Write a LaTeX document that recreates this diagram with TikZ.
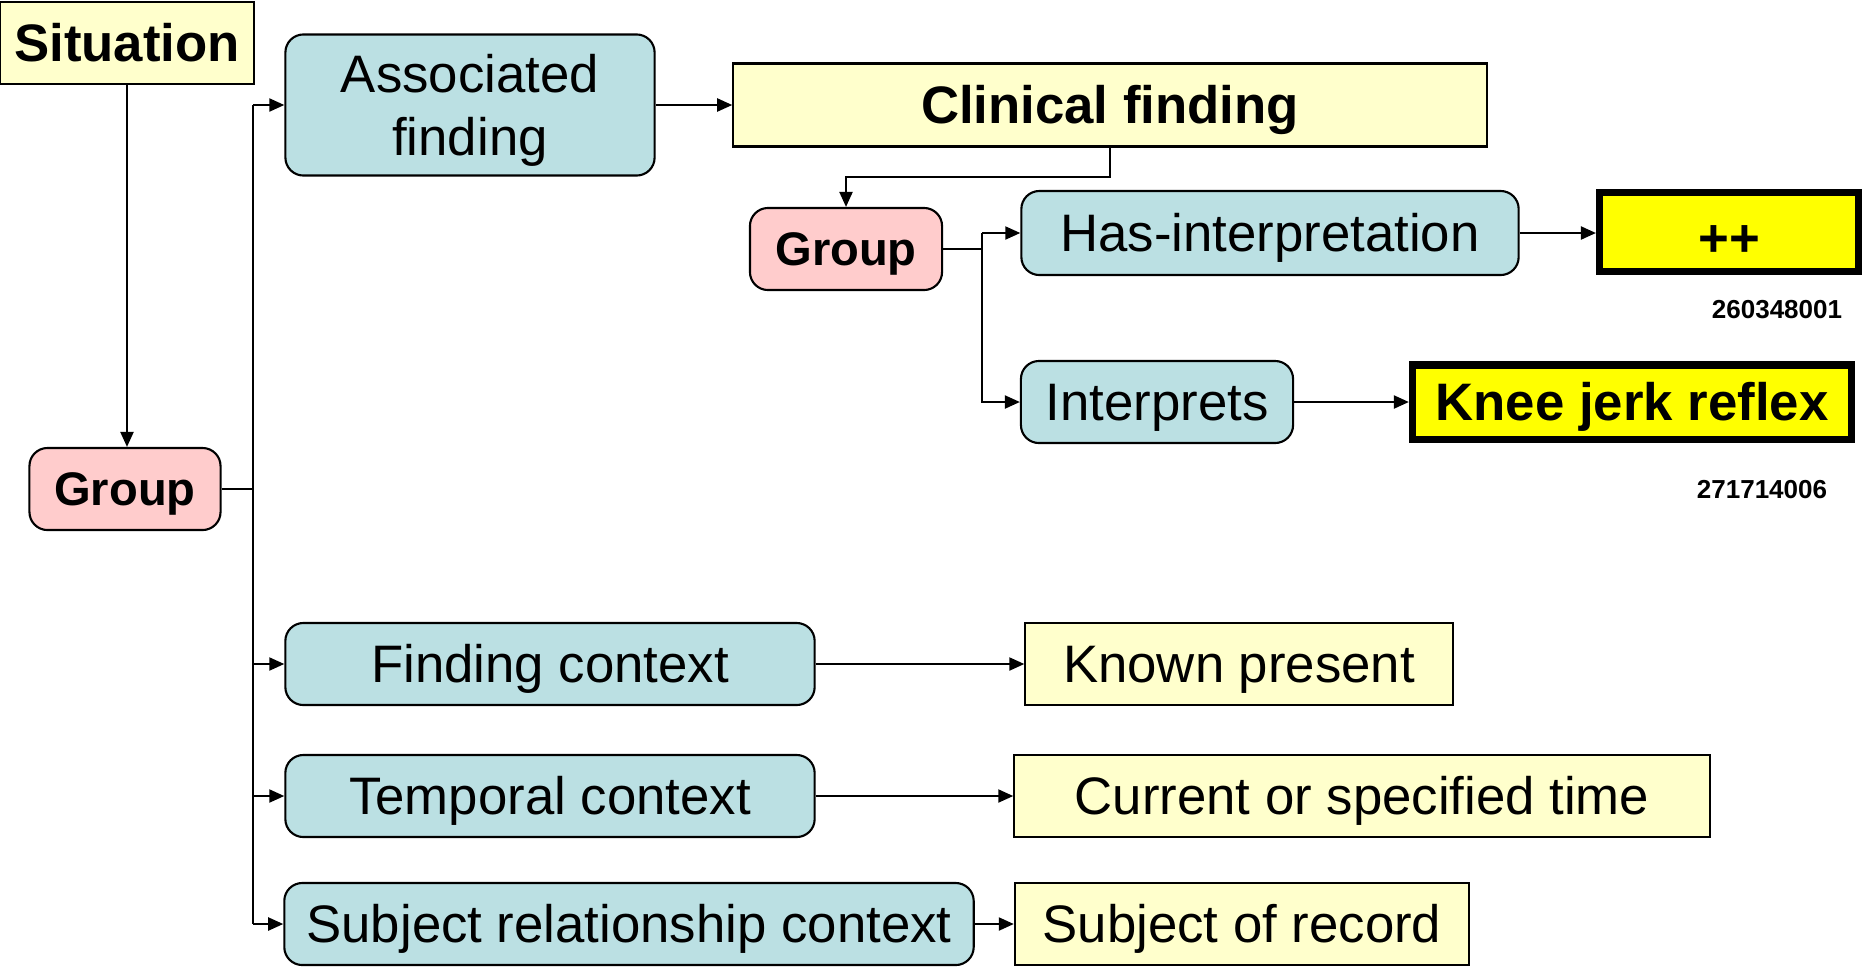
\documentclass[tikz,border=0pt]{standalone}
\usepackage{fontspec}
\setmainfont{Liberation Sans}
\usetikzlibrary{arrows.meta}
\newcommand\boxstrut{\rule[-0.212em]{0pt}{1.117em}}
\newcommand\topstrut[1]{\rule{0pt}{#1em}}

\begin{document}
\begin{tikzpicture}[x=0.01cm,y=-0.01cm,font=\fontsize{15pt}{18pt}\selectfont,
  box/.style={draw,line width=0.6pt,inner sep=0pt,align=center,minimum height=0.82cm,
    execute at begin node=\boxstrut,execute at end node=\boxstrut},
  attr/.style={box,rounded corners=0.18cm,fill=attrblue},
  grp/.style={box,rounded corners=0.18cm,fill=grppink,font=\fontsize{13.4pt}{16pt}\selectfont\bfseries},
  val/.style={box,fill=valyellow},
  hot/.style={box,fill=hotyellow,line width=2pt,font=\fontsize{15pt}{18pt}\selectfont\bfseries},
  code/.style={font=\fontsize{7.4pt}{9pt}\selectfont\bfseries},
  wire/.style={line width=0.6pt},
  link/.style={wire,-{Triangle[length=0.15cm,width=0.13cm]}}]
  \definecolor{attrblue}{RGB}{187,224,227}
  \definecolor{grppink}{RGB}{255,204,204}
  \definecolor{valyellow}{RGB}{255,255,204}
  \definecolor{hotyellow}{RGB}{255,255,0}

  \useasboundingbox (0,0) rectangle (1864,966);

  % left column
  \node[val,font=\fontsize{15pt}{18pt}\selectfont\bfseries,minimum width=2.53cm] (sit) at (127,43) {Situation};
  \node[grp,minimum width=1.91cm] (grpA) at (125,489) {Group};

  % attributes of the situation
  \node[attr,minimum width=3.69cm,minimum height=1.41cm] (assoc) at (470,105) {\topstrut{0.94}Associated\\finding};
  \node[attr,minimum width=5.29cm] (fctx) at (550,664) {Finding context};
  \node[attr,minimum width=5.29cm] (tctx) at (550,796) {Temporal context};
  \node[attr,minimum width=6.89cm] (sctx) at (629,924) {Subject relationship context};

  % values
  \node[val,font=\fontsize{15pt}{18pt}\selectfont\bfseries,minimum width=7.53cm,minimum height=0.83cm] (clin) at (1110,105) {Clinical finding};
  \node[val,minimum width=4.27cm] (known) at (1239,664) {Known present};
  \node[val,minimum width=6.95cm] (curr) at (1362,796) {Current or specified time};
  \node[val,minimum width=4.54cm] (subj) at (1242,924) {Subject of record};

  % refinement group
  \node[grp,minimum width=1.92cm] (grpB) at (846,249) {Group};
  \node[attr,minimum width=4.97cm,minimum height=0.84cm] (hasint) at (1270,233) {Has-interpretation};
  \node[attr,minimum width=2.72cm] (interp) at (1157,402) {Interprets};
  \node[hot,minimum width=2.59cm,minimum height=0.79cm] (plus) at (1729,232) {\topstrut{1.14}++};
  \node[hot,minimum width=4.39cm,minimum height=0.74cm] (knee) at (1632,402) {Knee jerk reflex};
  \node[code] (codeA) at (1777,310) {260348001};
  \node[code] (codeB) at (1762,490) {271714006};

  % connectors
  \coordinate (trunkTop) at (253,105);
  \coordinate (trunkBot) at (253,924);
  \coordinate (bend) at (1110,177);
  \coordinate (forkTop) at (982,233);

  \draw[link] (sit.south) -- (sit.south |- grpA.north);
  \draw[wire] (grpA.east) -- (grpA.east -| trunkTop);
  \draw[wire] (trunkTop) -- (trunkBot);
  \foreach \t in {assoc,fctx,tctx,sctx}
    {\draw[link] (\t.west -| trunkTop) -- (\t.west);}
  \draw[link] (assoc.east) -- (assoc.east -| clin.west);
  \draw[link] (clin.south) -- (bend) -| (grpB.north);
  \draw[wire] (grpB.east) -- (grpB.east -| forkTop);
  \draw[link] (forkTop) -- (hasint.west);
  \draw[link] (forkTop) |- (interp.west);
  \draw[link] (hasint.east) -- (hasint.east -| plus.west);
  \draw[link] (interp.east) -- (interp.east -| knee.west);
  \draw[link] (fctx.east) -- (fctx.east -| known.west);
  \draw[link] (tctx.east) -- (tctx.east -| curr.west);
  \draw[link] (sctx.east) -- (sctx.east -| subj.west);
\end{tikzpicture}
\end{document}
